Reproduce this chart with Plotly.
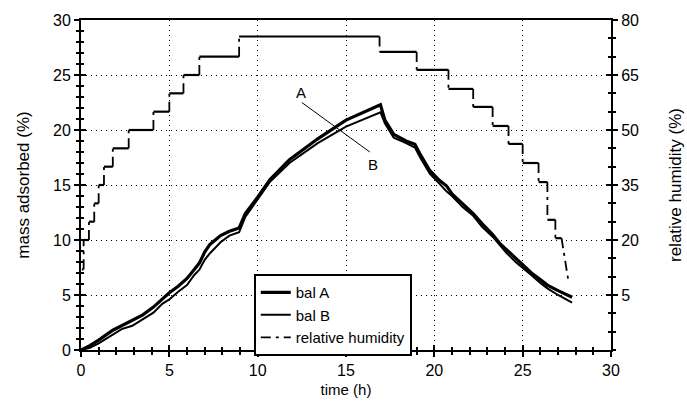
import plotly.graph_objects as go

# ---- data ----
time_A = [0, 0.5, 1.0, 1.8, 2.3, 2.9, 3.5, 4.1, 4.6, 5.0, 5.5, 6.0, 6.4, 6.7, 7.0, 7.3, 7.9, 8.4, 8.95,
          9.3, 10.0, 10.7, 11.8, 13.4, 15.0, 16.0, 16.95,
          17.2, 17.7, 18.4, 18.9, 19.2, 19.75, 20.3, 20.7, 21.0, 21.6, 22.2, 22.7, 23.3, 23.7, 24.1,
          24.6, 25.0, 25.5, 26.0, 26.4, 27.0, 27.8]
mass_A = [0, 0.4, 0.9, 1.8, 2.2, 2.7, 3.2, 3.9, 4.6, 5.2, 5.8, 6.5, 7.3, 7.9, 8.9, 9.6, 10.4, 10.8, 11.1,
          12.4, 13.9, 15.5, 17.3, 19.2, 20.9, 21.6, 22.3,
          20.9, 19.6, 19.0, 18.7, 17.8, 16.3, 15.4, 14.9, 14.2, 13.3, 12.4, 11.5, 10.5, 9.7, 9.1,
          8.3, 7.7, 7.0, 6.4, 5.9, 5.4, 4.8]
time_B = [0, 0.5, 1.0, 1.8, 2.3, 2.9, 3.5, 4.1, 4.6, 5.0, 5.5, 6.0, 6.4, 6.7, 7.0, 7.3, 7.9, 8.4, 8.95,
          9.3, 10.0, 10.7, 11.8, 13.4, 15.0, 16.0, 16.95,
          17.2, 17.7, 18.4, 18.9, 19.2, 19.75, 20.3, 20.7, 21.0, 21.6, 22.2, 22.7, 23.3, 23.7, 24.1,
          24.6, 25.0, 25.5, 26.0, 26.4, 27.0, 27.8]
mass_B = [0, 0.2, 0.6, 1.4, 1.9, 2.2, 2.8, 3.4, 4.2, 4.6, 5.3, 5.9, 6.8, 7.3, 8.2, 8.8, 9.8, 10.4, 10.7,
          12.1, 13.7, 15.3, 17.0, 18.8, 20.3, 21.0, 21.6,
          20.6, 19.3, 18.8, 18.4, 17.5, 16.0, 15.1, 14.4, 14.0, 13.0, 12.2, 11.2, 10.3, 9.5, 8.8,
          8.0, 7.5, 6.8, 6.1, 5.6, 5.0, 4.3]

rh_step_start = [0.05, 0.15, 0.45, 0.75, 1.0, 1.3, 1.8, 2.7, 4.1, 5.0, 5.8, 6.7, 8.95,
                 16.9, 19.0, 20.8, 22.2, 23.3, 24.2, 25.0, 25.9, 26.4, 26.85]
rh_step_value = [12, 20, 25, 30, 35, 40, 45, 50, 55, 60, 65, 70, 75.5,
                 71.3, 66.4, 61.2, 56.3, 51.1, 46.2, 41, 35.8, 25.5, 20.5]
rh_last_step_end = 27.2
rh_final_time = 27.6
rh_final_value = 8.5

x_ticks = [0, 5, 10, 15, 20, 25, 30]
y_ticks = [0, 5, 10, 15, 20, 25, 30]
rh_ticks = [5, 20, 35, 50, 65, 80]

# build RH path pieces from the step arrays: flat parts (solid) and risers (dashed)
ends = rh_step_start[1:] + [rh_last_step_end]
flat_x, flat_y = [], []
for t0, t1, v in zip(rh_step_start, ends, rh_step_value):
    flat_x += [t0, t1, None]
    flat_y += [v, v, None]
rise_x, rise_y = [], []
for i in range(1, len(rh_step_start)):
    t = rh_step_start[i]
    rise_x += [t, t, None]
    rise_y += [rh_step_value[i - 1], rh_step_value[i], None]
rise_x += [rh_last_step_end, rh_final_time]
rise_y += [rh_step_value[-1], rh_final_value]

FONT = "Liberation Sans, Arial, sans-serif"
GRID_DASH = "1px,4px"

fig = go.Figure()
fig.add_trace(go.Scatter(x=time_A, y=mass_A, mode="lines", name="bal A",
                         line=dict(color="black", width=3.2)))
fig.add_trace(go.Scatter(x=time_B, y=mass_B, mode="lines", name="bal B",
                         line=dict(color="black", width=2)))
fig.add_trace(go.Scatter(x=rise_x, y=rise_y, mode="lines", name="relative humidity", yaxis="y2",
                         line=dict(color="black", width=1.8, dash="10px,5px,3px,5px")))
fig.add_trace(go.Scatter(x=flat_x, y=flat_y, mode="lines", yaxis="y2", showlegend=False,
                         line=dict(color="black", width=2.2)))
# dummy traces to register overlay axes for inward tick marks
fig.add_trace(go.Scatter(x=[None], y=[None], xaxis="x2", yaxis="y3", showlegend=False, hoverinfo="skip"))
fig.add_trace(go.Scatter(x=[None], y=[None], xaxis="x2", yaxis="y4", showlegend=False, hoverinfo="skip"))

# A / B annotation
fig.add_shape(type="line", x0=12.5, y0=22.5, x1=16.35, y1=18.0,
              line=dict(color="black", width=1), xref="x", yref="y")
fig.add_annotation(x=12.45, y=23.4, text="A", showarrow=False, font=dict(size=15, family=FONT, color="black"))
fig.add_annotation(x=16.5, y=16.9, text="B", showarrow=False, font=dict(size=15, family=FONT, color="black"))

common_tick = dict(tickfont=dict(size=16, family=FONT, color="black"))

fig.update_layout(
    width=687, height=409,
    margin=dict(l=81, r=76, t=20, b=59, autoexpand=False),
    paper_bgcolor="white", plot_bgcolor="white",
    font=dict(family=FONT, color="black"),
    showlegend=True,
    legend=dict(x=0.326, y=0.23, xanchor="left", yanchor="top",
                bgcolor="white", bordercolor="black", borderwidth=2,
                font=dict(size=15, family=FONT, color="black"),
                tracegroupgap=0, itemwidth=30),
    xaxis=dict(range=[0, 30], tickvals=x_ticks, ticks="outside", ticklen=5, tickwidth=1.5,
               tickcolor="black", showline=True, linecolor="black", linewidth=2, mirror=True,
               showgrid=True, gridcolor="black", griddash=GRID_DASH, gridwidth=1, zeroline=False,
               automargin=False,
               minor=dict(ticks="outside", dtick=1, ticklen=3, tickcolor="black", showgrid=False),
               title=dict(text="time (h)", font=dict(size=15, family=FONT), standoff=6),
               **common_tick),
    yaxis=dict(range=[0, 30], tickvals=y_ticks, ticks="outside", ticklen=5, tickwidth=1.5,
               tickcolor="black", showline=True, linecolor="black", linewidth=2,
               showgrid=True, gridcolor="black", griddash=GRID_DASH, gridwidth=1, zeroline=False,
               automargin=False,
               minor=dict(ticks="outside", dtick=1, ticklen=3, tickcolor="black", showgrid=False),
               title=dict(text="mass adsorbed (%)", font=dict(size=17, family=FONT), standoff=19),
               **common_tick),
    yaxis2=dict(range=[-10, 80], tickvals=rh_ticks, overlaying="y", side="right", ticks="outside",
                ticklen=5, tickwidth=1.5, tickcolor="black", showline=True, linecolor="black",
                linewidth=2, showgrid=False, zeroline=False, automargin=False,
                minor=dict(ticks="outside", tick0=5, dtick=5, ticklen=3, tickcolor="black"),
                title=dict(text="relative humidity (%)", font=dict(size=17, family=FONT), standoff=31),
                **common_tick),
    xaxis2=dict(range=[0, 30], overlaying="x", anchor="y", tickvals=x_ticks, ticks="inside", ticklen=5,
                tickwidth=1.5, tickcolor="black", showticklabels=False, showgrid=False,
                zeroline=False, showline=False, side="bottom", automargin=False,
                minor=dict(ticks="inside", dtick=1, ticklen=3, tickcolor="black")),
    yaxis3=dict(range=[0, 30], overlaying="y", anchor="x", tickvals=y_ticks, ticks="inside", ticklen=5,
                tickwidth=1.5, tickcolor="black", showticklabels=False, showgrid=False,
                zeroline=False, showline=False, side="left", automargin=False,
                minor=dict(ticks="inside", dtick=1, ticklen=3, tickcolor="black")),
    yaxis4=dict(range=[-10, 80], overlaying="y", anchor="x", tickvals=rh_ticks, ticks="inside", ticklen=5,
                tickwidth=1.5, tickcolor="black", showticklabels=False, showgrid=False,
                zeroline=False, showline=False, side="right", automargin=False,
                minor=dict(ticks="inside", tick0=5, dtick=5, ticklen=3, tickcolor="black")),
)

fig.write_html("out.html")
